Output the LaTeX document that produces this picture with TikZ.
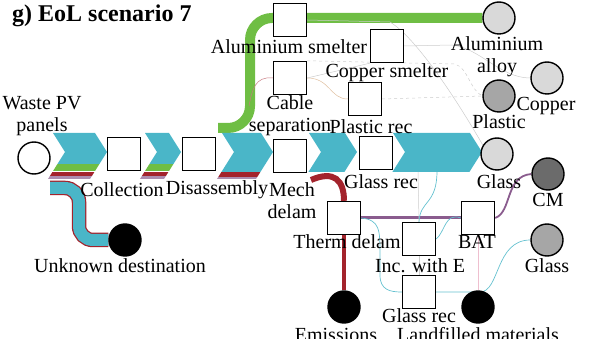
\documentclass[tikz,border=0pt]{standalone}
\usepackage{fontspec}
\setmainfont{Liberation Serif}
\usetikzlibrary{positioning,backgrounds}

\definecolor{flowblue}{HTML}{4AB6C8}
\definecolor{flowgreen}{HTML}{6FBE44}
\definecolor{flowred}{HTML}{A3232C}
\definecolor{flowpurple}{HTML}{8A5C8E}
\definecolor{outlight}{HTML}{D9D9D9}
\definecolor{outmid}{HTML}{A6A6A6}
\definecolor{outdark}{HTML}{6B6B6B}

% chevron outline: left x, tip x, bottom y
\newcommand{\chevpts}[3]{(#1,133) -- ({#2-12},133) -- (#2,152) -- ({#2-0.63*(#3-152)},#3)
  -- ({#1+12-0.63*(#3-152)},#3) -- ({#1+12},152) -- cycle}

\tikzset{
  proc/.style={draw, line width=1.4pt, fill=white, minimum size=33pt, inner sep=0pt},
  sink/.style={circle, draw, line width=1.4pt, minimum size=32pt, inner sep=0pt},
  lbl/.style={font=\fontsize{20}{22}\selectfont, align=center, inner sep=0pt},
  faint/.style={line width=0.5pt, draw=gray!40},
  thinflow/.style={line width=0.7pt, draw=flowblue!85},
}

\begin{document}
\begin{tikzpicture}[x=1pt, y=-1pt]
  \useasboundingbox (0,0) rectangle (603,339);

  %% Chevrons of the main stream
  \begin{scope}
    \clip \chevpts{53}{107}{179};
    \fill[flowblue] (40,130) rectangle (120,164);
    \fill[flowgreen] (40,164) rectangle (120,171);
    \fill[flowred] (40,172) rectangle (120,176.5);
    \fill[flowpurple!70] (40,176.5) rectangle (120,179);
  \end{scope}
  \begin{scope}
    \clip \chevpts{145}{181}{179};
    \fill[flowblue] (130,130) rectangle (190,164);
    \fill[flowgreen] (130,164) rectangle (190,171);
    \fill[flowred] (130,172) rectangle (190,176.5);
    \fill[flowpurple!70] (130,176.5) rectangle (190,179);
  \end{scope}
  \begin{scope}
    \clip \chevpts{222}{273}{179};
    \fill[flowblue] (200,130) rectangle (280,172);
    \fill[flowred] (200,172.5) rectangle (280,177.5);
    \fill[flowpurple!70] (200,177.5) rectangle (280,179);
  \end{scope}
  \fill[flowblue] \chevpts{309}{357}{172};
  \fill[flowblue] \chevpts{393}{482}{172};

  %% Processes
  \node[sink] (waste) at (34,158) {};
  \node[proc] (coll) at (124,154) {};
  \node[proc] (disas) at (199,154) {};
  \node[proc] (mech) at (290,156) {};
  \node[proc] (glassrecA) at (376,153) {};
  \node[proc] (alsm) at (290,20) {};
  \node[proc] (cable) at (290,78) {};
  \node[proc] (cusm) at (387,46) {};
  \node[proc] (plasrec) at (365,99) {};
  \node[proc] (therm) at (344,218) {};
  \node[proc] (inc) at (419,239) {};
  \node[proc] (bat) at (478,218) {};
  \node[proc] (glassrecB) at (419,292) {};

  %% Outputs
  \node[sink, fill=outlight] (alalloy) at (499,18) {};
  \node[sink, fill=outlight] (copper) at (547,78) {};
  \node[sink, fill=outmid] (plastic) at (499,96) {};
  \node[sink, fill=outlight] (glassout) at (497,154) {};
  \node[sink, fill=outdark] (cm) at (548,174) {};
  \node[sink, fill=outmid] (glassB) at (547,240) {};
  \node[sink, fill=black] (emis) at (344,307) {};
  \node[sink, fill=black] (landfill) at (478,307) {};
  \node[sink, fill=black] (unknown) at (125,240) {};

  %% Flow ends that leave the chevrons
  \coordinate (gsrc) at (218,128);
  \coordinate (usrc) at (50,188);
  \coordinate (rsrc) at (311,180);
  \coordinate (bsrc) at (437,171);
  \coordinate (gmerge) at (249,106);

  \begin{pgfonlayer}{background}
    %% main flows
    \draw[flowgreen, line width=10pt, rounded corners=22pt]
      (gsrc) -- (250,128) -- (250,18) -- (alalloy.west);
    \draw[flowred, line width=14.5pt, rounded corners=14pt]
      (usrc) -- (79,188) -- (79,240) -- (unknown.west);
    \draw[flowblue, line width=12pt, rounded corners=14pt]
      (usrc) -- (79,188) -- (79,240) -- (unknown.west);
    \draw[flowred, line width=6pt] (rsrc) .. controls (334,170) and (344,180) .. (therm.north);
    \draw[flowred, line width=4.5pt] (therm.south) -- (emis.north);
    \draw[flowpurple, line width=3pt] (therm.east) -- (bat.west);
    \draw[flowpurple, line width=1.8pt] (bat.east) .. controls (512,212) and (505,176) .. (cm.west);

    %% thin flows
    \draw[flowred!60, line width=0.5pt] (cable.west) .. controls (255,76) and (252,90) .. (gmerge);
    \draw[faint, draw=brown!50] (cable.east) .. controls (330,78) and (330,99) .. (plasrec.west);
    \draw[faint] (cable.east) -- (cusm.south west);
    \draw[faint, dashed] (cable.north east) -- (455,64) .. controls (468,68) and (470,90) .. (plastic.west);
    \draw[faint, dashed] (plasrec.east) -- (plastic.west);
    \draw[faint] (cusm.east) -- (452,45) .. controls (480,48) and (500,78) .. (copper.west);
    \draw[faint] (alsm.east) -- (390,22) .. controls (420,40) and (470,120) .. (glassout.south);
    \draw[faint] (glassrecA.north west) -- (glassrecA.south east);
    \draw[faint] (418,170) -- (inc.north);
    \draw[thinflow] (bsrc) .. controls (437,205) and (420,200) .. (inc.north);
    \draw[thinflow] (bat.west) .. controls (445,212) and (445,232) .. (inc.east);
    \draw[thinflow] (therm.east) .. controls (380,220) and (380,230) .. (380,255)
      -- (380,275) .. controls (380,290) and (390,292) .. (glassrecB.west);
    \draw[thinflow] (glassrecB.east) -- (480,292) .. controls (500,292) and (495,240) .. (glassB.west);
    \draw[faint, draw=purple!25, line width=0.8pt] (bat.south) -- (landfill.north);
    \draw[faint] (inc.south) -- (glassrecB.north);
  \end{pgfonlayer}

  %% Labels
  \node[font=\fontsize{24}{26}\selectfont\bfseries, anchor=west, inner sep=0pt] (title) at (12,16) {g) EoL scenario 7};
  \node[lbl] (lwaste) at (42,116) {Waste PV\\panels};
  \node[lbl] (lcoll) at (122,190) {Collection};
  \node[lbl] (ldisas) at (217,190) {Disassembly};
  \node[lbl] (lmech) at (292,201) {Mech\\delam};
  \node[lbl] (lglassrecA) at (381,182) {Glass rec};
  \node[lbl] (ltherm) at (347,242) {Therm delam};
  \node[lbl] (linc) at (420,266) {Inc. with E};
  \node[lbl] (lbat) at (477,242) {BAT};
  \node[lbl] (lglassrecB) at (419,316) {Glass rec};
  \node[lbl] (lemis) at (336,335) {Emissions};
  \node[lbl] (llandfill) at (478,335) {Landfilled materials};
  \node[lbl] (lglassout) at (499,182) {Glass};
  \node[lbl] (lcm) at (548,200) {CM};
  \node[lbl] (lglassB) at (547,266) {Glass};
  \node[lbl] (lalalloy) at (497,57) {Aluminium\\alloy};
  \node[lbl] (lcopper) at (546,106) {Copper};
  \node[lbl] (lplastic) at (499,122) {Plastic};
  \node[lbl] (lalsm) at (289,47) {Aluminium smelter};
  \node[lbl] (lcusm) at (387,73) {Copper smelter};
  \node[lbl] (lcable) at (290,116) {Cable\\separation};
  \node[lbl] (lplasrec) at (371,127) {Plastic rec};
  \node[lbl] (lunknown) at (120,266) {Unknown destination};
\end{tikzpicture}
\end{document}
